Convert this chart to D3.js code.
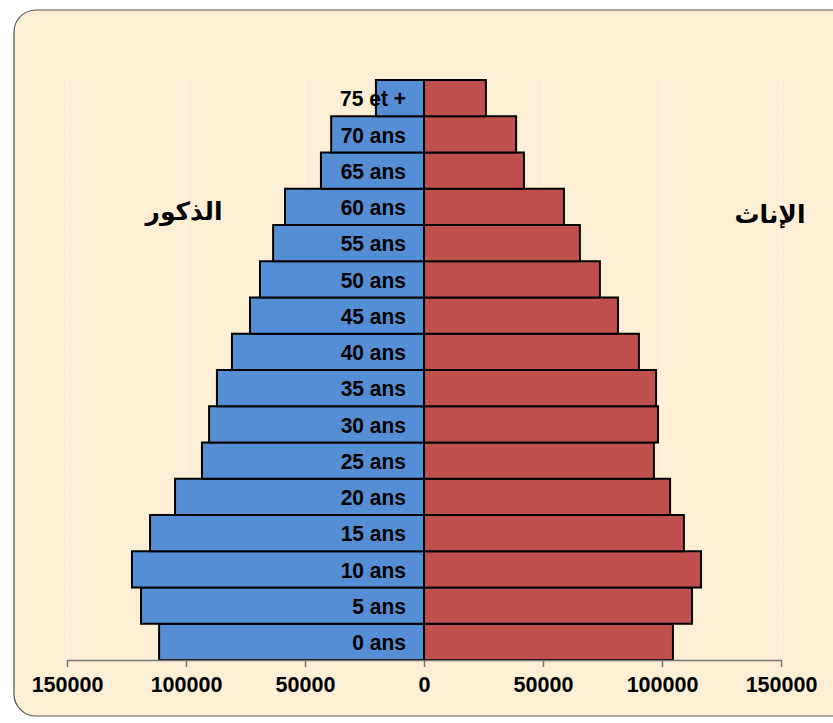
<!DOCTYPE html>
<html>
<head>
<meta charset="utf-8">
<script src="https://cdn.jsdelivr.net/npm/d3@7"></script>
<style>
  body { margin: 0; background: #fff; }
  svg { display: block; }
</style>
</head>
<body>
<svg id="chart" width="833" height="723"></svg>
<script>
const ageGroups = ["0 ans", "5 ans", "10 ans", "15 ans", "20 ans", "25 ans", "30 ans", "35 ans",
  "40 ans", "45 ans", "50 ans", "55 ans", "60 ans", "65 ans", "70 ans", "75 et +"];
const males = [111300, 118900, 122700, 115100, 104600, 93300, 90300, 87000,
  80700, 73100, 68900, 63400, 58400, 43300, 39000, 20200];
const females = [104600, 112600, 116400, 109200, 103400, 96600, 98300, 97500,
  90300, 81500, 73900, 65500, 58800, 42000, 38700, 26000];
const tickValues = [-150000, -100000, -50000, 0, 50000, 100000, 150000];
const maleTitle = "الذكور";
const femaleTitle = "الإناث";

const svg = d3.select("#chart");

// background panel
svg.append("rect")
  .attr("x", 14).attr("y", 10)
  .attr("width", 840).attr("height", 706)
  .attr("rx", 22).attr("ry", 22)
  .attr("fill", "#fcefd5")
  .attr("stroke", "#555")
  .attr("stroke-width", 1.2);

const x = d3.scaleLinear().domain([-150000, 150000]).range([67, 781]);
const y = d3.scaleBand().domain(ageGroups.slice().reverse()).range([80, 660]).padding(0);

// faint grid lines
svg.append("g")
  .selectAll("line")
  .data(tickValues)
  .join("line")
  .attr("x1", d => x(d)).attr("x2", d => x(d))
  .attr("y1", 80).attr("y2", 660)
  .attr("stroke", "#fff")
  .attr("stroke-width", 1)
  .attr("stroke-dasharray", "2 1")
  .attr("opacity", 0.8);

// male bars
svg.append("g")
  .selectAll("rect")
  .data(ageGroups)
  .join("rect")
  .attr("x", (d, i) => x(-males[i]))
  .attr("y", d => y(d))
  .attr("width", (d, i) => x(0) - x(-males[i]))
  .attr("height", y.bandwidth())
  .attr("fill", "#558ed5")
  .attr("stroke", "#000")
  .attr("stroke-width", 2);

// female bars
svg.append("g")
  .selectAll("rect")
  .data(ageGroups)
  .join("rect")
  .attr("x", x(0))
  .attr("y", d => y(d))
  .attr("width", (d, i) => x(females[i]) - x(0))
  .attr("height", y.bandwidth())
  .attr("fill", "#c0504d")
  .attr("stroke", "#000")
  .attr("stroke-width", 2);

// age labels (slightly stretched vertically, like the original)
svg.append("g")
  .selectAll("text")
  .data(ageGroups)
  .join("text")
  .attr("transform", d => `translate(406,${y(d) + y.bandwidth() / 2}) scale(1,1.08)`)
  .attr("dy", "0.36em")
  .attr("text-anchor", "end")
  .attr("font-family", "Liberation Sans, Arial, sans-serif")
  .attr("font-weight", "bold")
  .attr("font-size", 21)
  .attr("fill", "#000")
  .text(d => d);

// x axis
const axis = d3.axisBottom(x)
  .tickValues(tickValues)
  .tickFormat(d => Math.abs(d))
  .tickSize(7)
  .tickSizeOuter(0);

const ax = svg.append("g")
  .attr("transform", "translate(0,660)")
  .call(axis);
ax.select(".domain").attr("stroke", "#777").attr("stroke-width", 1.5);
ax.selectAll(".tick line").attr("stroke", "#777").attr("stroke-width", 1.5);
ax.selectAll(".tick text")
  .attr("y", 17)
  .attr("font-family", "Liberation Sans, Arial, sans-serif")
  .attr("font-weight", "bold")
  .attr("font-size", 21.5)
  .attr("fill", "#000");

// side titles
svg.append("text")
  .attr("x", 184).attr("y", 220)
  .attr("text-anchor", "middle")
  .attr("font-family", "DejaVu Sans, sans-serif")
  .attr("font-weight", "bold")
  .attr("font-size", 25)
  .attr("fill", "#000")
  .text(maleTitle);

svg.append("text")
  .attr("x", 770).attr("y", 223)
  .attr("text-anchor", "middle")
  .attr("font-family", "DejaVu Sans, sans-serif")
  .attr("font-weight", "bold")
  .attr("font-size", 25)
  .attr("fill", "#000")
  .text(femaleTitle);
</script>
</body>
</html>
